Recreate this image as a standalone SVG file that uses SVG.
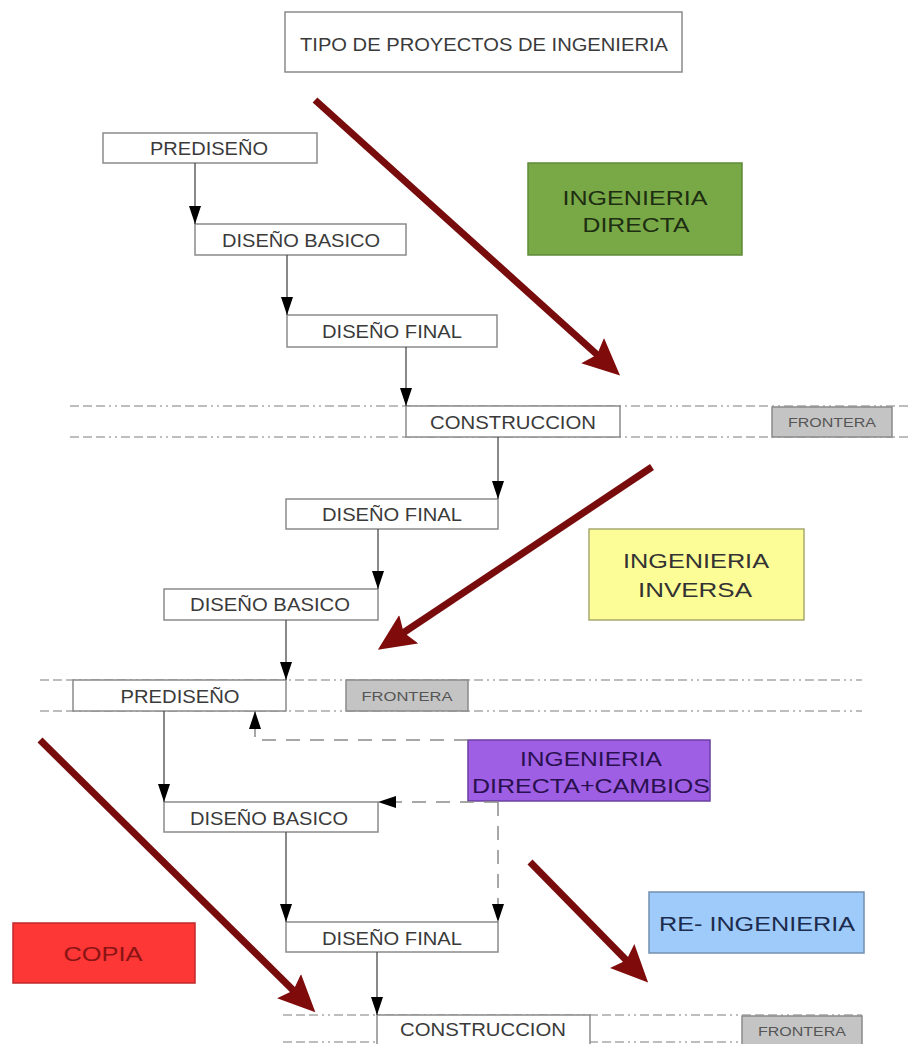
<svg xmlns="http://www.w3.org/2000/svg" width="915" height="1044" viewBox="0 0 915 1044">
<defs>
<style>
.box{fill:#fff;stroke:#8a8a8a;stroke-width:1.5}
.lbl{font-family:"Liberation Sans",Arial,sans-serif;font-size:17.5px;fill:#3a3a3a;text-anchor:middle}
.big{font-family:"Liberation Sans",Arial,sans-serif;font-size:21px;text-anchor:middle}
.fr{fill:#c4c4c4;stroke:#8a8a8a;stroke-width:1.5}
.frt{font-family:"Liberation Sans",Arial,sans-serif;font-size:12.5px;fill:#555;text-anchor:middle}
.conn{fill:none;stroke:#4a4a4a;stroke-width:1.3}
.dash{fill:none;stroke:#8a8a8a;stroke-width:1.5;stroke-dasharray:14 10}
.bound{fill:none;stroke:#a8a8a8;stroke-width:1.5;stroke-dasharray:9 4 9 4 9 4 2 4 2 4}
.red{fill:none;stroke:#780c0c;stroke-width:7}
</style>
<marker id="tri" markerUnits="userSpaceOnUse" viewBox="0 0 18 12" refX="18" refY="6" markerWidth="18" markerHeight="12" orient="auto">
<path d="M0,0 L18,6 L0,12 z" fill="#000"/>
</marker>
<marker id="big" markerUnits="userSpaceOnUse" viewBox="0 0 38 36" refX="14" refY="18" markerWidth="38" markerHeight="36" orient="auto">
<path d="M0,1 L37,18 L0,35 L6,18 z" fill="#800b0b"/>
</marker>
</defs>

<g id="boundaries">
<line class="bound" x1="70" y1="406" x2="912" y2="406"/>
<line class="bound" x1="70" y1="437" x2="912" y2="437"/>
<line class="bound" x1="40" y1="680" x2="862" y2="680"/>
<line class="bound" x1="40" y1="711" x2="862" y2="711"/>
<line class="bound" x1="283" y1="1015" x2="862" y2="1015"/>
<line class="bound" x1="283" y1="1042" x2="862" y2="1042"/>
</g>

<g id="title"><rect class="box" x="285" y="12" width="397" height="60"/><text class="lbl" x="484" y="51" font-size="19" textLength="368" lengthAdjust="spacingAndGlyphs">TIPO DE PROYECTOS DE INGENIERIA</text></g>

<g id="prediseno1"><rect class="box" x="103" y="133" width="214" height="30"/><text class="lbl" x="209" y="155" textLength="118" lengthAdjust="spacingAndGlyphs">PREDISEÑO</text></g>
<g id="basico1"><rect class="box" x="195" y="224" width="211" height="31"/><text class="lbl" x="301" y="247" textLength="158" lengthAdjust="spacingAndGlyphs">DISEÑO BASICO</text></g>
<g id="final1"><rect class="box" x="287" y="315" width="210" height="32"/><text class="lbl" x="392" y="338" textLength="140" lengthAdjust="spacingAndGlyphs">DISEÑO FINAL</text></g>
<g id="construccion1"><rect class="box" x="406" y="406" width="214" height="31"/><text class="lbl" x="513" y="429" textLength="166" lengthAdjust="spacingAndGlyphs">CONSTRUCCION</text></g>
<g id="frontera1"><rect class="fr" x="772" y="407" width="120" height="30"/><text class="frt" x="832" y="427" textLength="88" lengthAdjust="spacingAndGlyphs">FRONTERA</text></g>

<g id="final2"><rect class="box" x="286" y="499" width="212" height="30"/><text class="lbl" x="392" y="521" textLength="140" lengthAdjust="spacingAndGlyphs">DISEÑO FINAL</text></g>
<g id="basico2"><rect class="box" x="164" y="589" width="214" height="31"/><text class="lbl" x="270" y="611" textLength="160" lengthAdjust="spacingAndGlyphs">DISEÑO BASICO</text></g>
<g id="prediseno2"><rect class="box" x="73" y="680" width="213" height="31"/><text class="lbl" x="180" y="703" textLength="119" lengthAdjust="spacingAndGlyphs">PREDISEÑO</text></g>
<g id="frontera2"><rect class="fr" x="346" y="680" width="122" height="31"/><text class="frt" x="407" y="701" textLength="91" lengthAdjust="spacingAndGlyphs">FRONTERA</text></g>

<g id="basico3"><rect class="box" x="164" y="802" width="214" height="30"/><text class="lbl" x="269" y="825" textLength="158" lengthAdjust="spacingAndGlyphs">DISEÑO BASICO</text></g>
<g id="final3"><rect class="box" x="286" y="922" width="212" height="30"/><text class="lbl" x="392" y="945" textLength="140" lengthAdjust="spacingAndGlyphs">DISEÑO FINAL</text></g>
<g id="construccion2"><rect class="box" x="377" y="1015" width="213" height="35"/><text class="lbl" x="483" y="1036" textLength="166" lengthAdjust="spacingAndGlyphs">CONSTRUCCION</text></g>
<g id="frontera3"><rect class="fr" x="742" y="1016" width="120" height="34"/><text class="frt" x="802" y="1036" textLength="88" lengthAdjust="spacingAndGlyphs">FRONTERA</text></g>

<g id="ing-directa"><rect x="528" y="163" width="214" height="92" fill="#79a946" stroke="#5f8a3a" stroke-width="1.5"/><text class="big" x="635" y="205" fill="#1e2e12" textLength="145" lengthAdjust="spacingAndGlyphs">INGENIERIA</text><text class="big" x="636" y="232" fill="#1e2e12" textLength="107" lengthAdjust="spacingAndGlyphs">DIRECTA</text></g>
<g id="ing-inversa"><rect x="589" y="529" width="215" height="91" fill="#fdfd98" stroke="#a8a870" stroke-width="1.5"/><text class="big" x="696" y="568" fill="#333" textLength="146" lengthAdjust="spacingAndGlyphs">INGENIERIA</text><text class="big" x="695" y="597" fill="#333" textLength="114" lengthAdjust="spacingAndGlyphs">INVERSA</text></g>
<g id="ing-cambios"><rect x="468" y="740" width="242" height="61" fill="#9e5fe4" stroke="#6a3fa0" stroke-width="1.5"/><text class="big" x="591" y="766" fill="#2a1050" textLength="142" lengthAdjust="spacingAndGlyphs">INGENIERIA</text><text class="big" x="591" y="793" fill="#2a1050" textLength="238" lengthAdjust="spacingAndGlyphs">DIRECTA+CAMBIOS</text></g>
<g id="re-ingenieria"><rect x="649" y="892" width="215" height="61" fill="#9fcbfa" stroke="#7390b0" stroke-width="1.5"/><text class="big" x="757" y="931" fill="#1c2c4e" textLength="196" lengthAdjust="spacingAndGlyphs">RE- INGENIERIA</text></g>
<g id="copia"><rect x="13" y="923" width="182" height="60" fill="#fd3636" stroke="#c02828" stroke-width="1.5"/><text class="big" x="103" y="961" fill="#8a1414" textLength="79" lengthAdjust="spacingAndGlyphs">COPIA</text></g>

<g id="connectors">
<line class="conn" x1="195" y1="163" x2="195" y2="224" marker-end="url(#tri)"/>
<line class="conn" x1="287" y1="255" x2="287" y2="315" marker-end="url(#tri)"/>
<line class="conn" x1="406" y1="347" x2="406" y2="406" marker-end="url(#tri)"/>
<line class="conn" x1="498" y1="437" x2="498" y2="499" marker-end="url(#tri)"/>
<line class="conn" x1="378" y1="529" x2="378" y2="589" marker-end="url(#tri)"/>
<line class="conn" x1="286" y1="620" x2="286" y2="680" marker-end="url(#tri)"/>
<line class="conn" x1="164" y1="711" x2="164" y2="802" marker-end="url(#tri)"/>
<line class="conn" x1="286" y1="832" x2="286" y2="922" marker-end="url(#tri)"/>
<line class="conn" x1="377" y1="952" x2="377" y2="1015" marker-end="url(#tri)"/>
<path class="dash" d="M468,740 L255,740 L255,711" marker-end="url(#tri)"/>
<path class="dash" d="M498,802 L378,802" marker-end="url(#tri)"/>
<path class="dash" d="M498,802 L498,922" marker-end="url(#tri)"/>
<line class="red" x1="315" y1="100" x2="603" y2="360" marker-end="url(#big)"/>
<line class="red" x1="652" y1="467" x2="397" y2="637" marker-end="url(#big)"/>
<line class="red" x1="40" y1="740" x2="299" y2="996" marker-end="url(#big)"/>
<line class="red" x1="530" y1="862" x2="632" y2="966" marker-end="url(#big)"/>
</g>
</svg>
